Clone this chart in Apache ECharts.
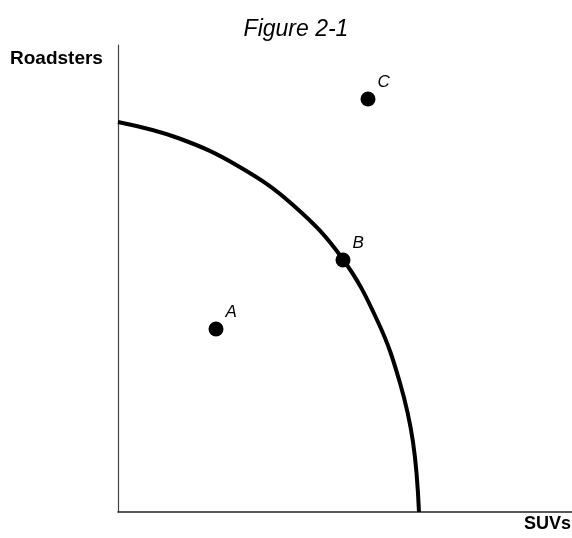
<!DOCTYPE html>
<html>
<head>
<meta charset="utf-8">
<script src="https://cdn.jsdelivr.net/npm/echarts@6/dist/echarts.min.js"></script>
<style>
  html, body { margin: 0; padding: 0; background: #fff; }
  #chart { width: 572px; height: 538px; }
</style>
</head>
<body>
<div id="chart"></div>
<script>
// PPF curve (SUVs, Roadsters)
var curveSUVs = [0, 60, 120, 175, 224, 260, 282, 295, 301];
var curveRoadsters = [390, 374, 346, 307, 254, 190, 129, 70, 0];
var pointNames = ['A', 'B', 'C'];
var pointSUVs = [98, 225, 250];
var pointRoadsters = [183, 252, 413];

var chart = echarts.init(document.getElementById('chart'))

var curveData = curveSUVs.map(function (x, i) { return [x, curveRoadsters[i]]; });
var pointData = pointNames.map(function (n, i) {
    return { name: n, value: [pointSUVs[i], pointRoadsters[i]] };
});

var option = {
    animation: false,
    title: {
        text: 'Figure 2-1',
        left: 291,
        textAlign: 'center',
        top: 13,
        textStyle: {
            fontFamily: 'Liberation Sans',
            fontStyle: 'italic',
            fontWeight: 'normal',
            fontSize: 23,
            color: '#000'
        }
    },
    grid: {
        left: 118,
        right: 0,
        top: 45,
        bottom: 26
    },
    xAxis: {
        type: 'value',
        min: 0,
        max: 454,
        axisLine: { show: true, lineStyle: { color: '#222', width: 1.5 } },
        axisTick: { show: false },
        axisLabel: { show: false },
        splitLine: { show: false }
    },
    yAxis: {
        type: 'value',
        min: 0,
        max: 467,
        axisLine: { show: true, lineStyle: { color: '#444', width: 1.2 } },
        axisTick: { show: false },
        axisLabel: { show: false },
        splitLine: { show: false }
    },
    graphic: [
        {
            type: 'text',
            left: 10,
            top: 49,
            style: {
                text: 'Roadsters',
                font: 'bold 19px "Liberation Sans"',
                fill: '#000'
            }
        },
        {
            type: 'text',
            right: 1,
            top: 515,
            style: {
                text: 'SUVs',
                font: 'bold 18px "Liberation Sans"',
                fill: '#000'
            }
        }
    ],
    series: [
        {
            type: 'line',
            data: curveData,
            smooth: 0.4,
            showSymbol: false,
            lineStyle: { color: '#000', width: 4 },
            silent: true
        },
        {
            type: 'scatter',
            data: pointData,
            symbolSize: 15,
            itemStyle: { color: '#000', opacity: 1 },
            label: {
                show: true,
                formatter: '{b}',
                position: 'right',
                offset: [-3, -17],
                fontFamily: 'Liberation Sans',
                fontStyle: 'italic',
                fontSize: 17,
                color: '#000'
            }
        }
    ]
};
chart.setOption(option)
</script>
</body>
</html>
